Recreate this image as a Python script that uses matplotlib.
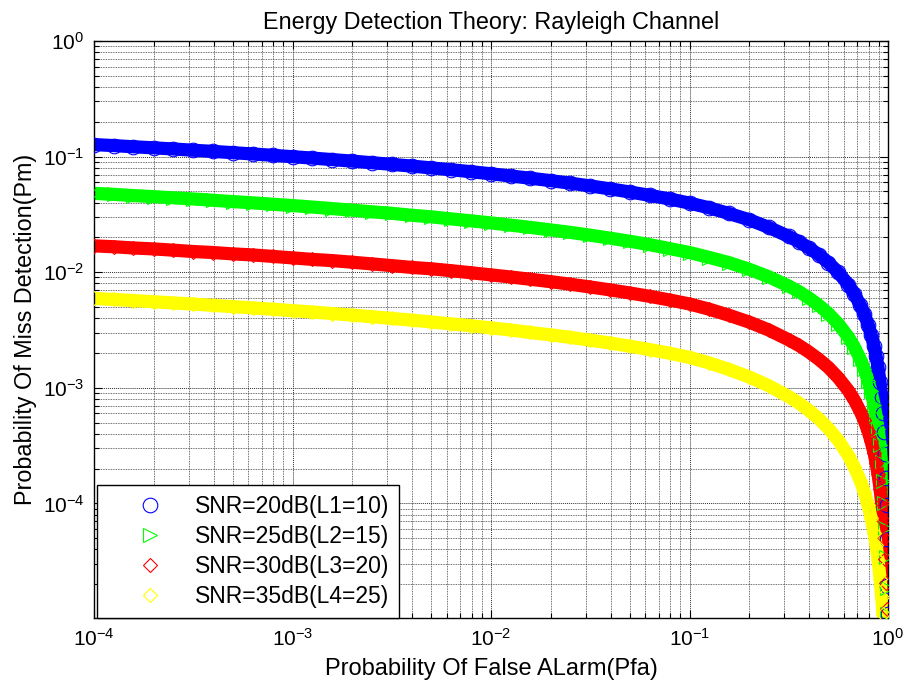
import numpy as np
import matplotlib
matplotlib.use("Agg")
import matplotlib.pyplot as plt
from matplotlib.ticker import LogLocator, NullFormatter, FixedLocator

nan = float("nan")

# Probability of false alarm (shared x values)
pfa = [1.00e-4, 1.26e-4, 1.58e-4, 2.00e-4, 2.51e-4, 3.16e-4, 3.98e-4, 5.01e-4, 6.31e-4, 7.94e-4,
       1.00e-3, 1.26e-3, 1.58e-3, 2.00e-3, 2.51e-3, 3.16e-3, 3.98e-3, 5.01e-3, 6.31e-3, 7.94e-3,
       1.00e-2, 1.26e-2, 1.58e-2, 2.00e-2, 2.51e-2, 3.16e-2, 3.98e-2, 5.01e-2, 6.31e-2, 7.94e-2,
       0.100, 0.126, 0.158, 0.200, 0.251, 0.316, 0.355, 0.398, 0.447, 0.501,
       0.562, 0.631, 0.676, 0.724, 0.759, 0.794, 0.822, 0.851, 0.871, 0.891,
       0.912, 0.929, 0.944, 0.957, 0.968, 0.977, 0.984, 0.990, 0.994, 0.9965]

# Probability of miss detection for each SNR / diversity setting
pm_snr20 = [0.127, 0.1245, 0.1216, 0.1191, 0.1164, 0.1135, 0.1109, 0.1081, 0.1054, 0.1026,
            0.0998, 0.0971, 0.0942, 0.0914, 0.0885, 0.0857, 0.0828, 0.0798, 0.0769, 0.0740,
            0.0710, 0.0679, 0.0650, 0.0619, 0.0589, 0.0557, 0.0526, 0.0494, 0.0462, 0.0430,
            0.0396, 0.0360, 0.0322, 0.0284, 0.0244, 0.0204, 0.0184, 0.0163, 0.0142, 0.0121,
            0.00995, 0.00780, 0.00650, 0.00521, 0.00436, 0.00352, 0.00289, 0.00228, 0.00188, 0.00150,
            0.00112, 8.38e-4, 6.01e-4, 4.13e-4, 2.69e-4, 1.65e-4, 9.73e-5, 4.93e-5, 1.93e-5, 1.10e-5]

pm_snr25 = [0.0481, 0.0471, 0.0460, 0.0450, 0.0440, 0.0430, 0.0419, 0.0408, 0.0398, 0.0387,
            0.0377, 0.0366, 0.0355, 0.0344, 0.0333, 0.0323, 0.0311, 0.0301, 0.0289, 0.0278,
            0.0267, 0.0255, 0.0244, 0.0232, 0.0221, 0.0209, 0.0197, 0.0185, 0.0173, 0.0160,
            0.0148, 0.0134, 0.0121, 0.0106, 0.00912, 0.00759, 0.00681, 0.00601, 0.00520, 0.00439,
            0.00357, 0.00275, 0.00226, 0.00178, 0.00146, 0.00115, 9.29e-4, 7.13e-4, 5.75e-4, 4.44e-4,
            3.20e-4, 2.29e-4, 1.56e-4, 1.01e-4, 6.12e-5, 3.45e-5, 1.84e-5, 1.10e-5, nan, nan]

pm_snr30 = [0.0169, 0.0166, 0.0162, 0.0159, 0.0155, 0.0151, 0.0148, 0.0144, 0.0141, 0.0137,
            0.0133, 0.0129, 0.0126, 0.0122, 0.0118, 0.0114, 0.0110, 0.0107, 0.0103, 0.00989,
            0.00948, 0.00908, 0.00869, 0.00828, 0.00787, 0.00745, 0.00703, 0.00661, 0.00618, 0.00575,
            0.00531, 0.00478, 0.00424, 0.00370, 0.00316, 0.00260, 0.00233, 0.00205, 0.00177, 0.00150,
            0.00122, 9.48e-4, 7.85e-4, 6.27e-4, 5.22e-4, 4.20e-4, 3.44e-4, 2.72e-4, 2.24e-4, 1.78e-4,
            1.34e-4, 1.00e-4, 7.21e-5, 4.99e-5, 3.28e-5, 2.05e-5, 1.23e-5, nan, nan, nan]

pm_snr35 = [0.00593, 0.00581, 0.00568, 0.00555, 0.00542, 0.00530, 0.00516, 0.00504, 0.00491, 0.00478,
            0.00465, 0.00452, 0.00439, 0.00425, 0.00412, 0.00398, 0.00385, 0.00371, 0.00357, 0.00344,
            0.00330, 0.00316, 0.00301, 0.00287, 0.00273, 0.00258, 0.00244, 0.00229, 0.00214, 0.00199,
            0.00183, 0.00164, 0.00144, 0.00124, 0.00104, 8.39e-4, 7.40e-4, 6.40e-4, 5.42e-4, 4.45e-4,
            3.51e-4, 2.60e-4, 2.07e-4, 1.58e-4, 1.26e-4, 9.62e-5, 7.52e-5, 5.56e-5, 4.36e-5, 3.25e-5,
            2.24e-5, 1.54e-5, 1.10e-5, nan, nan, nan, nan, nan, nan, nan]

labels = ["SNR=20dB(L1=10)", "SNR=25dB(L2=15)", "SNR=30dB(L3=20)", "SNR=35dB(L4=25)"]
colors = ["#0000ff", "#00ff00", "#ff0000", "#ffff00"]
markers = ["o", ">", "D", "D"]
msizes = [10.5, 10.5, 7.5, 7.5]

plt.rcParams["font.family"] = ["Liberation Sans", "DejaVu Sans"]
plt.rcParams["mathtext.fontset"] = "custom"
plt.rcParams["mathtext.rm"] = "Liberation Sans"
plt.rcParams["mathtext.it"] = "Liberation Sans:italic"
plt.rcParams["mathtext.default"] = "regular"

fig = plt.figure(figsize=(9.05, 6.91), dpi=100)
ax = fig.add_axes([94 / 905, 1 - 618 / 691, 794 / 905, 577 / 691])

series = [pm_snr20, pm_snr25, pm_snr30, pm_snr35]
for pm, c, m, ms, lab in zip(series, colors, markers, msizes, labels):
    x = np.array(pfa)
    y = np.array(pm, dtype=float)
    # dense band of overlapping hollow markers
    ax.plot(x, y, "-", color=c, lw=9.5, solid_capstyle="round", zorder=2)
    ax.plot(x, y, linestyle="none", marker=m, ms=ms, mfc="none", mec=c, mew=0.8,
            label=lab, zorder=3)

ax.set_xscale("log")
ax.set_yscale("log")
ax.set_xlim(1e-4, 1.0)
ax.set_ylim(1.02e-5, 1.0)

ax.xaxis.set_major_locator(FixedLocator([1e-4, 1e-3, 1e-2, 1e-1, 1e0]))
ax.yaxis.set_major_locator(FixedLocator([1e-4, 1e-3, 1e-2, 1e-1, 1e0]))
ax.xaxis.set_minor_locator(LogLocator(base=10, subs=np.arange(2, 10), numticks=20))
ax.yaxis.set_minor_locator(LogLocator(base=10, subs=np.arange(2, 10), numticks=20))
ax.xaxis.set_minor_formatter(NullFormatter())
ax.yaxis.set_minor_formatter(NullFormatter())

ax.grid(True, which="major", color="#303030", linestyle=(0, (1, 1)), lw=0.7)
ax.grid(True, which="minor", color="#404040", linestyle=(0, (1, 1)), lw=0.6)
ax.set_axisbelow(True)

ax.tick_params(which="both", direction="in", top=True, right=True, width=0.8,
               labelsize=15)
ax.tick_params(which="major", length=6, pad=7)
ax.tick_params(which="minor", length=3.5)
for sp in ax.spines.values():
    sp.set_linewidth(1.0)
    sp.set_color("black")

ax.set_title("Energy Detection Theory: Rayleigh Channel", fontsize=16.8, pad=9)
ax.set_xlabel("Probability Of False ALarm(Pfa)", fontsize=17, labelpad=6)
ax.set_ylabel("Probability Of Miss Detection(Pm)", fontsize=16.8, labelpad=4)

leg = ax.legend(loc="lower left", bbox_to_anchor=(0.004, 0.0), borderaxespad=0,
                fontsize=16.5, frameon=True, fancybox=False, edgecolor="black",
                framealpha=1, numpoints=1, handlelength=3.7, handletextpad=0.1,
                borderpad=0.45, labelspacing=0.3)
leg.get_frame().set_linewidth(1.0)

fig.savefig("out.png", dpi=100)
